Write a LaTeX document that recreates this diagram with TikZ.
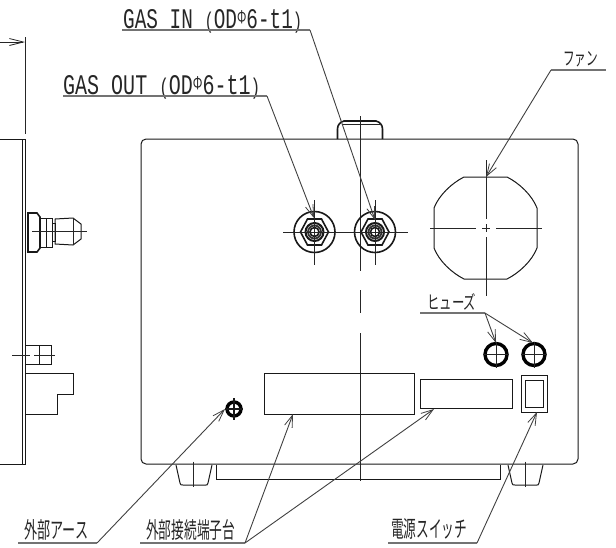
\documentclass[tikz,border=0pt]{standalone}
\usepackage{graphicx}
\usepackage{fontspec}
\setmainfont{Liberation Mono}
\newfontfamily\cjk{Noto Sans CJK JP}
\usetikzlibrary{arrows.meta,calc}
\tikzset{
  outline/.style={line width=1.0pt,draw=black!90},
  thick outline/.style={line width=1.6pt,draw=black!90},
  fatring/.style={line width=3.4pt,draw=black},
  thinline/.style={line width=0.9pt,draw=black!85},
  leader/.style={line width=0.9pt,draw=black!75},
  shelf/.style={line width=1.2pt,draw=black!55},
  pointer/.style={leader,-{Straight Barb[length=12pt,width=8pt,line width=0.8pt]}},
  lbl/.style={inner sep=0pt,anchor=south west,text=black!85},
}
\newcommand{\lab}[3]{\resizebox{#1pt}{#2pt}{#3}}
\newcommand{\gastext}[1]{#1 \smash{\raisebox{0pt}{\scalebox{0.8}{(}}}OD\smash{\raisebox{0.35ex}{\scalebox{0.6}{\cjk Φ}}}6-t1\smash{\scalebox{0.8}{)}}}
\begin{document}
\begin{tikzpicture}[x=1pt,y=-1pt]
\useasboundingbox (0,0) rectangle (616,547);
% main body
\draw[outline,rounded corners=5pt] (141,139) -- (578,139) -- (578,464) -- (141,464) -- cycle;
% top tab
\draw[thick outline] (337.5,139) -- (337.5,129) .. controls (337.5,125) and (340,122) .. (344,121) -- (376,121) .. controls (380,122) and (382.5,125) .. (382.5,129) -- (382.5,139);
\draw[thinline] (342,124) -- (380,124);
% side plate
\draw[outline] (0,139) -- (25,139) -- (25,464) -- (0,464);
\draw[outline] (22.5,139) -- (22.5,464);
% dimension
\coordinate (dimtop) at (25,37);
\coordinate (dimbot) at (25,134);
\coordinate (dimstart) at (0,42);
\coordinate (dimend) at (25,42);
\draw[thinline] (dimtop) -- (dimbot);
\draw[thinline,-{Straight Barb[length=14pt,width=7pt,line width=0.8pt]}] (dimstart) -- (dimend);
% side fitting
\draw[line width=2.6pt,draw=black!90] (28,213) -- (28,252);
\draw[thick outline] (27,213) -- (37,213) -- (40,217) -- (40,248) -- (37,252) -- (27,252);
\draw[outline] (41,218) -- (52,218) -- (52,247) -- (41,247);
\draw[outline] (46,218) -- (46,247);
\draw[outline] (52,223) -- (55,223) -- (55,241) -- (52,241);
\draw[outline] (55,219) -- (73,218) -- (81,224) -- (81,239) -- (73,245) -- (55,244) -- cycle;
\draw[thinline] (73,218) -- (73,245);
\draw[thinline] (55,231) -- (73,231);
\draw[thinline] (32,231) -- (87,231);
% side bracket and bolt
\draw[outline] (26,345.5) -- (51,345.5) -- (51,364) -- (26,364);
\draw[thick outline] (39.5,345.5) -- (39.5,364);
\draw[thinline] (12,355) -- (30,355);
\draw[thinline] (34,355) -- (55,355);
\draw[outline] (26,373.5) -- (73.5,373.5) -- (73.5,394) -- (57.5,394) -- (57.5,414) -- (26,414);
% fan
\draw[outline] (464,177) -- (507,177) .. controls (519,183) and (532,195) .. (537,208) -- (537,248) .. controls (532,261) and (519,273) .. (507,279) -- (464,279) .. controls (452,273) and (439,261) .. (434,248) -- (434,208) .. controls (439,195) and (452,183) .. (464,177) -- cycle;
\draw[thinline] (430,228) -- (476,228);
\draw[thinline] (496,228) -- (542,228);
\draw[thinline] (482,228) -- (490,228);
\draw[thinline] (486,160) -- (486,219);
\draw[thinline] (486,224) -- (486,232);
\draw[thinline] (486,237) -- (486,296);
% vertical centre line
\draw[thinline] (360,116) -- (360,271);
\draw[thinline] (360,290) -- (360,313);
\draw[thinline] (360,333) -- (360,481);
% gas fittings
\foreach \name/\cx in {gasout/314.5,gasin/375}{
  \coordinate (\name) at (\cx,232);
  \draw[thick outline] (\name) circle[radius=20.5];
  \draw[thick outline] ($(\name)+(-14,0)$) -- ($(\name)+(-7,-13)$) -- ($(\name)+(7,-13)$) -- ($(\name)+(14,0)$) -- ($(\name)+(7,13)$) -- ($(\name)+(-7,13)$) -- cycle;
  \draw[line width=2pt,draw=black!90] (\name) circle[radius=9];
  \draw[line width=1.8pt,draw=black!80] (\name) circle[radius=6.5];
  \draw[thick outline] (\name) circle[radius=4.5];
  \draw[thinline] ($(\name)+(0,-32)$) -- ($(\name)+(0,33)$);
}
\draw[thinline] (283,232) -- (408,232);
% fuses
\foreach \name/\cx in {fusea/496,fuseb/534}{
  \coordinate (\name) at (\cx,354.5);
  \draw[fatring] (\name) circle[radius=11];
  \draw[thinline] ($(\name)+(-13,0)$) -- ($(\name)+(13,0)$);
  \draw[thinline] ($(\name)+(0,-13)$) -- ($(\name)+(0,13)$);
}
% earth screw
\coordinate (earth) at (234,409);
\draw[fatring] (earth) circle[radius=7];
\draw[thick outline] ($(earth)+(-9,0)$) -- ($(earth)+(9,0)$);
\draw[thick outline] ($(earth)+(0,-11)$) -- ($(earth)+(0,11)$);
% terminals and switch
\draw[outline] (264,373.5) rectangle (414,414);
\draw[outline] (420,379) rectangle (512,408);
\draw[outline] (521.5,375) rectangle (547,412.5);
\draw[outline] (525.5,380) rectangle (543,407);
% feet and base
\draw[outline] (176,465) -- (180,483) .. controls (180.5,485) and (181,485) .. (183,485) -- (206,485) .. controls (207,485) and (207.5,485) .. (208,483) -- (212,465);
\draw[thinline] (193.5,461.5) -- (193.5,487);
\draw[outline] (508,465) -- (512,483) .. controls (512.5,485) and (513,485) .. (515,485) -- (537,485) .. controls (538,485) and (538.5,485) .. (539,483) -- (543,465);
\draw[thinline] (525.5,461.5) -- (525.5,487);
\draw[outline] (216,465) -- (216,479) -- (500,479) -- (500,465);
% labels
\node[lbl] (gasinlabel) at (123,29) {\lab{179}{19}{\gastext{GAS IN}}};
\node[lbl] (gasoutlabel) at (63,95) {\lab{197}{19}{\gastext{GAS OUT}}};
\node[lbl] (fanlabel) at (563,67) {\lab{35}{14}{\cjk ファン}};
\node[lbl] (fuselabel) at (427,311) {\lab{49}{16}{\cjk ヒューズ}};
\node[lbl] (earthlabel) at (24,541) {\lab{64}{19}{\cjk 外部アース}};
\node[lbl] (termlabel) at (146,541) {\lab{89}{19}{\cjk 外部接続端子台}};
\node[lbl] (swlabel) at (391,540) {\lab{76}{19}{\cjk 電源スイッチ}};
% leaders
\draw[shelf] (122,30) -- (310,30);
\draw[pointer] (310,30) -- (375,220);
\draw[shelf] (63,96) -- (267,96);
\draw[pointer] (267,96) -- (314,218);
\draw[shelf] (551,70) -- (606,70);
\draw[pointer] (551,70) -- (486,177);
\draw[shelf] (420,313) -- (485,313);
\draw[pointer] (485,313) -- (496,343);
\draw[pointer] (485,313) -- (533,343);
\draw[shelf] (18,543) -- (97,543);
\draw[pointer] (97,543) -- (225,409);
\draw[shelf] (140,543) -- (245,543);
\draw[pointer] (245,543) -- (293,414);
\draw[pointer] (245,543) -- (434,409);
\draw[shelf] (388,543) -- (477,543);
\draw[pointer] (477,543) -- (537,412);
\end{tikzpicture}
\end{document}
